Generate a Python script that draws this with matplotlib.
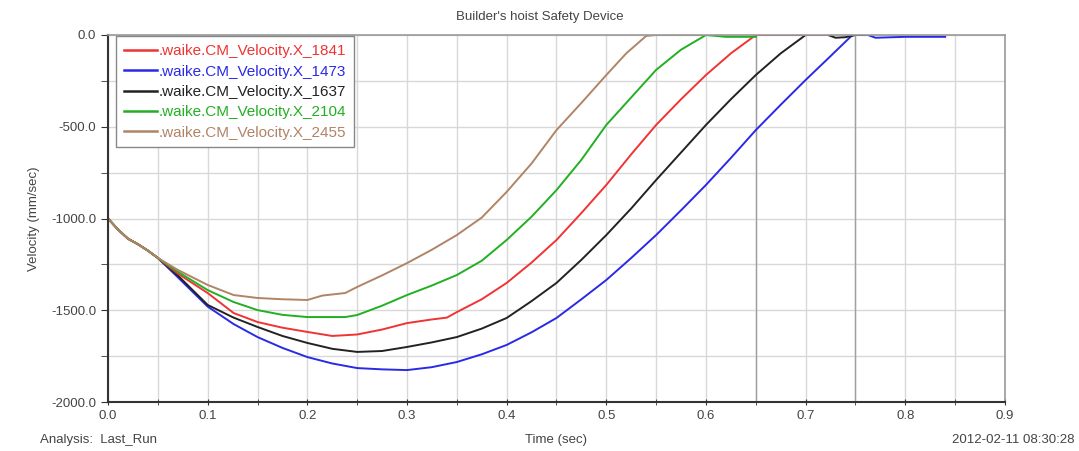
import numpy as np
import matplotlib.pyplot as plt

plt.rcParams['font.family'] = ['Liberation Sans', 'DejaVu Sans']

t_start = [0.0, 0.01, 0.02, 0.03, 0.04, 0.05]
v_start = [-1000, -1060, -1110, -1140, -1175, -1215]

# .waike.CM_Velocity.X_2455 (brown)
t_2455 = t_start + [0.07, 0.1, 0.126, 0.15, 0.175, 0.2, 0.215, 0.238, 0.25, 0.275, 0.3,
                    0.325, 0.35, 0.375, 0.4, 0.425, 0.45, 0.475, 0.5, 0.52, 0.54, 0.55, 0.6]
v_2455 = v_start + [-1280, -1362, -1417, -1433, -1440, -1444, -1420, -1406, -1373, -1310, -1243,
                    -1170, -1090, -995, -855, -700, -518, -370, -218, -100, -5, 0, 0]

# .waike.CM_Velocity.X_2104 (green)
t_2104 = t_start + [0.07, 0.1, 0.126, 0.15, 0.175, 0.2, 0.238, 0.25, 0.275, 0.3, 0.325, 0.35,
                    0.375, 0.4, 0.425, 0.45, 0.475, 0.5, 0.525, 0.55, 0.575, 0.6, 0.62, 0.65]
v_2104 = v_start + [-1290, -1390, -1455, -1499, -1525, -1537, -1537, -1526, -1475, -1417, -1365, -1308,
                    -1230, -1117, -990, -845, -680, -490, -340, -190, -80, 0, -10, -10]

# .waike.CM_Velocity.X_1841 (red)
t_1841 = t_start + [0.07, 0.1, 0.126, 0.15, 0.175, 0.2, 0.225, 0.25, 0.275, 0.3, 0.325, 0.34,
                    0.35, 0.375, 0.4, 0.425, 0.45, 0.475, 0.5, 0.525, 0.55, 0.575, 0.6, 0.625,
                    0.65, 0.7, 0.72]
v_1841 = v_start + [-1300, -1406, -1515, -1564, -1595, -1618, -1640, -1632, -1605, -1570, -1550, -1540,
                    -1510, -1440, -1351, -1240, -1117, -970, -817, -650, -490, -350, -218, -100,
                    0, 0, 0]

# .waike.CM_Velocity.X_1637 (black)
t_1637 = t_start + [0.07, 0.1, 0.126, 0.15, 0.175, 0.2, 0.225, 0.25, 0.275, 0.3, 0.325, 0.35,
                    0.375, 0.4, 0.425, 0.45, 0.475, 0.5, 0.525, 0.55, 0.575, 0.6, 0.625, 0.65,
                    0.675, 0.7, 0.71, 0.72, 0.73, 0.74, 0.75, 0.76]
v_1637 = v_start + [-1310, -1471, -1540, -1591, -1640, -1678, -1710, -1727, -1722, -1700, -1675, -1646,
                    -1600, -1542, -1450, -1351, -1225, -1090, -945, -790, -640, -490, -350, -218,
                    -100, 0, 8, 5, -15, -12, 0, 0]

# .waike.CM_Velocity.X_1473 (blue)
t_1473 = t_start + [0.07, 0.1, 0.126, 0.15, 0.175, 0.2, 0.225, 0.25, 0.275, 0.3, 0.325, 0.35,
                    0.375, 0.4, 0.425, 0.45, 0.475, 0.5, 0.525, 0.55, 0.575, 0.6, 0.625, 0.65,
                    0.675, 0.7, 0.725, 0.745, 0.75, 0.76, 0.77, 0.8, 0.84]
v_1473 = v_start + [-1320, -1480, -1575, -1646, -1705, -1755, -1790, -1815, -1822, -1826, -1810, -1782,
                    -1740, -1689, -1620, -1542, -1440, -1335, -1215, -1090, -955, -817, -670, -518,
                    -380, -245, -115, -10, 8, 5, -15, -10, -10]

fig = plt.figure(figsize=(10.79, 4.51), dpi=100)
ax = fig.add_axes([0.1001, 0.1086, 0.8313, 0.8138])

ax.set_xlim(0, 0.9)
ax.set_ylim(-2000, 0)
ax.set_xticks(np.arange(0, 0.91, 0.1))
ax.set_xticks(np.arange(0, 0.91, 0.05), minor=True)
ax.set_yticks(np.arange(-2000, 1, 500))
ax.set_yticks(np.arange(-2000, 1, 250), minor=True)
ax.xaxis.set_major_formatter(plt.FormatStrFormatter('%.1f'))
ax.yaxis.set_major_formatter(plt.FormatStrFormatter('%.1f'))
ax.grid(True, which='both', color='#d8d8d8', lw=1.0)
for xv in [0.65, 0.75]:
    ax.axvline(xv, color='#a0a0a0', lw=1.0, zorder=1)
ax.set_axisbelow(True)

ax.tick_params(which='both', labelsize=9.5, colors='#333333', labelcolor='#444444')
ax.tick_params(axis='x', which='both', direction='inout', length=5)
ax.tick_params(axis='y', which='both', direction='out', length=5)
for s in ['left', 'bottom']:
    ax.spines[s].set_color('#333333')
    ax.spines[s].set_linewidth(1.5)
for s in ['top', 'right']:
    ax.spines[s].set_color('#999999')
    ax.spines[s].set_linewidth(1.2)

lw = 1.4
ax.plot(t_1473, v_1473, color='#2a2ae6', lw=lw, label='.waike.CM_Velocity.X_1473')
ax.plot(t_1637, v_1637, color='#222222', lw=lw, label='.waike.CM_Velocity.X_1637')
ax.plot(t_1841, v_1841, color='#f03333', lw=lw, label='.waike.CM_Velocity.X_1841')
ax.plot(t_2104, v_2104, color='#22b022', lw=lw, label='.waike.CM_Velocity.X_2104')
ax.plot(t_2455, v_2455, color='#b08466', lw=lw, label='.waike.CM_Velocity.X_2455')

handles, labels = ax.get_legend_handles_labels()
order = [2, 0, 1, 3, 4]
leg = ax.legend([handles[i] for i in order], [labels[i] for i in order],
                loc='upper left', bbox_to_anchor=(0.009, 0.996), fontsize=11,
                handlelength=2.2, handletextpad=0.1, labelspacing=0.42,
                borderpad=0.5, borderaxespad=0.0, fancybox=False,
                edgecolor='#888888', framealpha=1)
for txt, h in zip(leg.get_texts(), leg.legend_handles):
    txt.set_color(h.get_color())
    h.set_linewidth(1.8)

fig.text(0.5, 0.962, "Builder's hoist Safety Device", ha='center', va='center',
         fontsize=9.5, color='#444444')
ax.set_ylabel('Velocity (mm/sec)', fontsize=9.5, color='#444444', labelpad=8)
fig.text(0.515, 0.024, 'Time (sec)', ha='center', va='center', fontsize=9.5, color='#444444')
fig.text(0.037, 0.024, 'Analysis:  Last_Run', ha='left', va='center', fontsize=9.5, color='#444444')
fig.text(0.996, 0.024, '2012-02-11 08:30:28', ha='right', va='center', fontsize=9.5, color='#444444')

fig.savefig('out.png', dpi=100)
